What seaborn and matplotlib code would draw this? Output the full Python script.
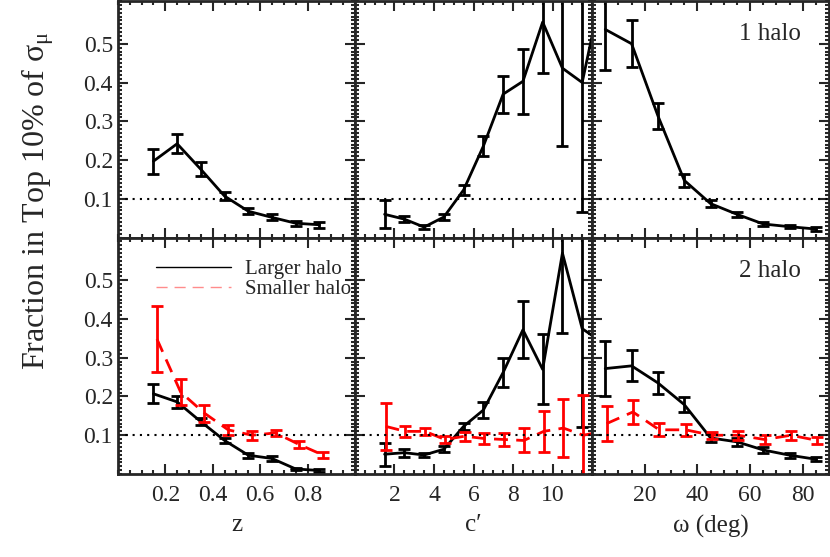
import matplotlib
matplotlib.use("Agg")
import matplotlib.pyplot as plt
from matplotlib.ticker import MultipleLocator
from matplotlib.lines import Line2D
import numpy as np
import pandas as pd
import seaborn as sns

sns.set_theme(style="ticks")
plt.rcParams["font.family"] = ["Liberation Serif", "DejaVu Serif"]
plt.rcParams["mathtext.fontset"] = "stix"
plt.rcParams.update({"font.size": 17})

# bin centres
z_bins = [0.15, 0.25, 0.35, 0.45, 0.55, 0.65, 0.75, 0.85]
c_bins = [1.5, 2.5, 3.5, 4.5, 5.5, 6.5, 7.5, 8.5, 9.5, 10.5, 11.5, 12.5]
w_bins = [5, 15, 25, 35, 45, 55, 65, 75, 85]

# 1 halo
one_z = [0.197, 0.242, 0.176, 0.107, 0.068, 0.052, 0.037, 0.033]
one_z_err = [0.032, 0.025, 0.018, 0.011, 0.0085, 0.0075, 0.006, 0.0075]
one_c = [0.06, 0.0475, 0.027, 0.053, 0.123, 0.236, 0.37, 0.403, 0.556, 0.437, 0.40, 0.64]
one_c_err = [0.036, 0.0085, 0.005, 0.008, 0.0135, 0.026, 0.048, 0.083, 0.132, 0.2, 0.333, 0.3]
one_w = [0.537, 0.50, 0.314, 0.1475, 0.0875, 0.06, 0.035, 0.028, 0.022]
one_w_err = [0.105, 0.06, 0.034, 0.0165, 0.0095, 0.007, 0.005, 0.004, 0.0045]

# 2 halo, larger halo
big_z = [0.207, 0.186, 0.135, 0.0865, 0.0485, 0.04, 0.013, 0.009]
big_z_err = [0.025, 0.016, 0.0095, 0.007, 0.006, 0.0055, 0.003, 0.003]
big_c = [0.051, 0.055, 0.049, 0.064, 0.123, 0.165, 0.262, 0.372, 0.27, 0.57, 0.375, 0.34]
big_c_err = [0.03, 0.01, 0.006, 0.0075, 0.009, 0.02, 0.037, 0.074, 0.09, 0.205, 0.255, 0.2]
big_w = [0.272, 0.279, 0.235, 0.179, 0.093, 0.083, 0.062, 0.0485, 0.038]
big_w_err = [0.072, 0.04, 0.028, 0.019, 0.0095, 0.0095, 0.0075, 0.006, 0.005]

# 2 halo, smaller halo
small_z = [0.348, 0.211, 0.157, 0.114, 0.1, 0.106, 0.076, 0.049]
small_z_err = [0.085, 0.034, 0.022, 0.0135, 0.011, 0.008, 0.0085, 0.007]
small_c = [0.123, 0.11, 0.11, 0.089, 0.0975, 0.0915, 0.089, 0.0865, 0.11, 0.1185, 0.10, 0.11]
small_c_err = [0.06, 0.0135, 0.009, 0.0085, 0.0115, 0.015, 0.017, 0.031, 0.052, 0.075, 0.105, 0.05]
small_w = [0.13, 0.16, 0.114, 0.114, 0.1, 0.1, 0.089, 0.1, 0.0865]
small_w_err = [0.045, 0.03, 0.017, 0.016, 0.0095, 0.0115, 0.012, 0.012, 0.01]

xlabels = ["z", "c\u2032", "\u03c9 (deg)"]
xlims = [(0, 1), (0, 12), (0, 90)]
xmajor = [[0.2, 0.4, 0.6, 0.8], [2, 4, 6, 8, 10], [20, 40, 60, 80]]
xminor = [0.05, 0.5, 5]
red_shift = [0.015, 0.05, 0.5]
yticks = [0.1, 0.2, 0.3, 0.4, 0.5]

bins = [z_bins, c_bins, w_bins]
top_rows = [(one_z, one_z_err), (one_c, one_c_err), (one_w, one_w_err)]
big_rows = [(big_z, big_z_err), (big_c, big_c_err), (big_w, big_w_err)]
small_rows = [(small_z, small_z_err), (small_c, small_c_err), (small_w, small_w_err)]

fig, axes = plt.subplots(2, 3, figsize=(8.3, 5.57), dpi=100, sharey=True)
fig.subplots_adjust(left=0.142, right=0.999, top=0.998, bottom=0.149, wspace=0, hspace=0)


def draw(ax, x, y, err, color, dashed=False):
    df = pd.DataFrame({"x": x, "y": y})
    sns.lineplot(data=df, x="x", y="y", ax=ax, color=color, lw=2,
                 linestyle=(0, (5, 3)) if dashed else "-", legend=False)
    ax.errorbar(x, y, yerr=err, fmt="none", ecolor=color, elinewidth=2,
                capsize=4, capthick=2)


for j in range(3):
    x = np.array(bins[j])
    draw(axes[0, j], x, *top_rows[j], "black")
    draw(axes[1, j], x, *big_rows[j], "black")
    draw(axes[1, j], x + red_shift[j], *small_rows[j], "red", dashed=True)
    for i in range(2):
        ax = axes[i, j]
        ax.axhline(0.1, color="black", lw=1.5, linestyle=(0, (1, 2.5)))
        ax.set_xlim(*xlims[j])
        ax.set_ylim(0, 0.61)
        ax.set_xticks(xmajor[j])
        ax.xaxis.set_minor_locator(MultipleLocator(xminor[j]))
        ax.set_yticks(yticks)
        ax.yaxis.set_minor_locator(MultipleLocator(0.01))
        ax.tick_params(which="both", direction="in", top=True, right=True,
                       width=1.5, labelsize=17)
        ax.tick_params(which="major", length=7)
        ax.tick_params(which="minor", length=3)
        ax.tick_params(axis="x", pad=8)
        for s in ax.spines.values():
            s.set_linewidth(2)
        ax.set_ylabel("")
        if i == 0:
            ax.set_xlabel("")
            ax.tick_params(labelbottom=False)
        else:
            ax.set_xlabel(xlabels[j], fontsize=18, labelpad=6)
        if j > 0:
            ax.tick_params(labelleft=False)

axes[0, 2].text(0.88, 0.86, "1 halo", transform=axes[0, 2].transAxes,
                ha="right", va="center", fontsize=18)
axes[1, 2].text(0.88, 0.86, "2 halo", transform=axes[1, 2].transAxes,
                ha="right", va="center", fontsize=18)

handles = [Line2D([], [], color="black", lw=1),
           Line2D([], [], color="red", lw=1, alpha=0.45, linestyle=(0, (8, 5)))]
axes[1, 0].legend(handles, ["Larger halo", "Smaller halo"], loc="upper left",
                  bbox_to_anchor=(0.08, 0.985), frameon=False, fontsize=15,
                  handlelength=3.6, handletextpad=0.7, labelspacing=0.0)

fig.text(0.045, 0.64, r"Fraction in Top 10% of $\mathregular{\sigma_\mu}$",
         rotation=90, ha="center", va="center", fontsize=23)

fig.savefig("out.png", dpi=100)
